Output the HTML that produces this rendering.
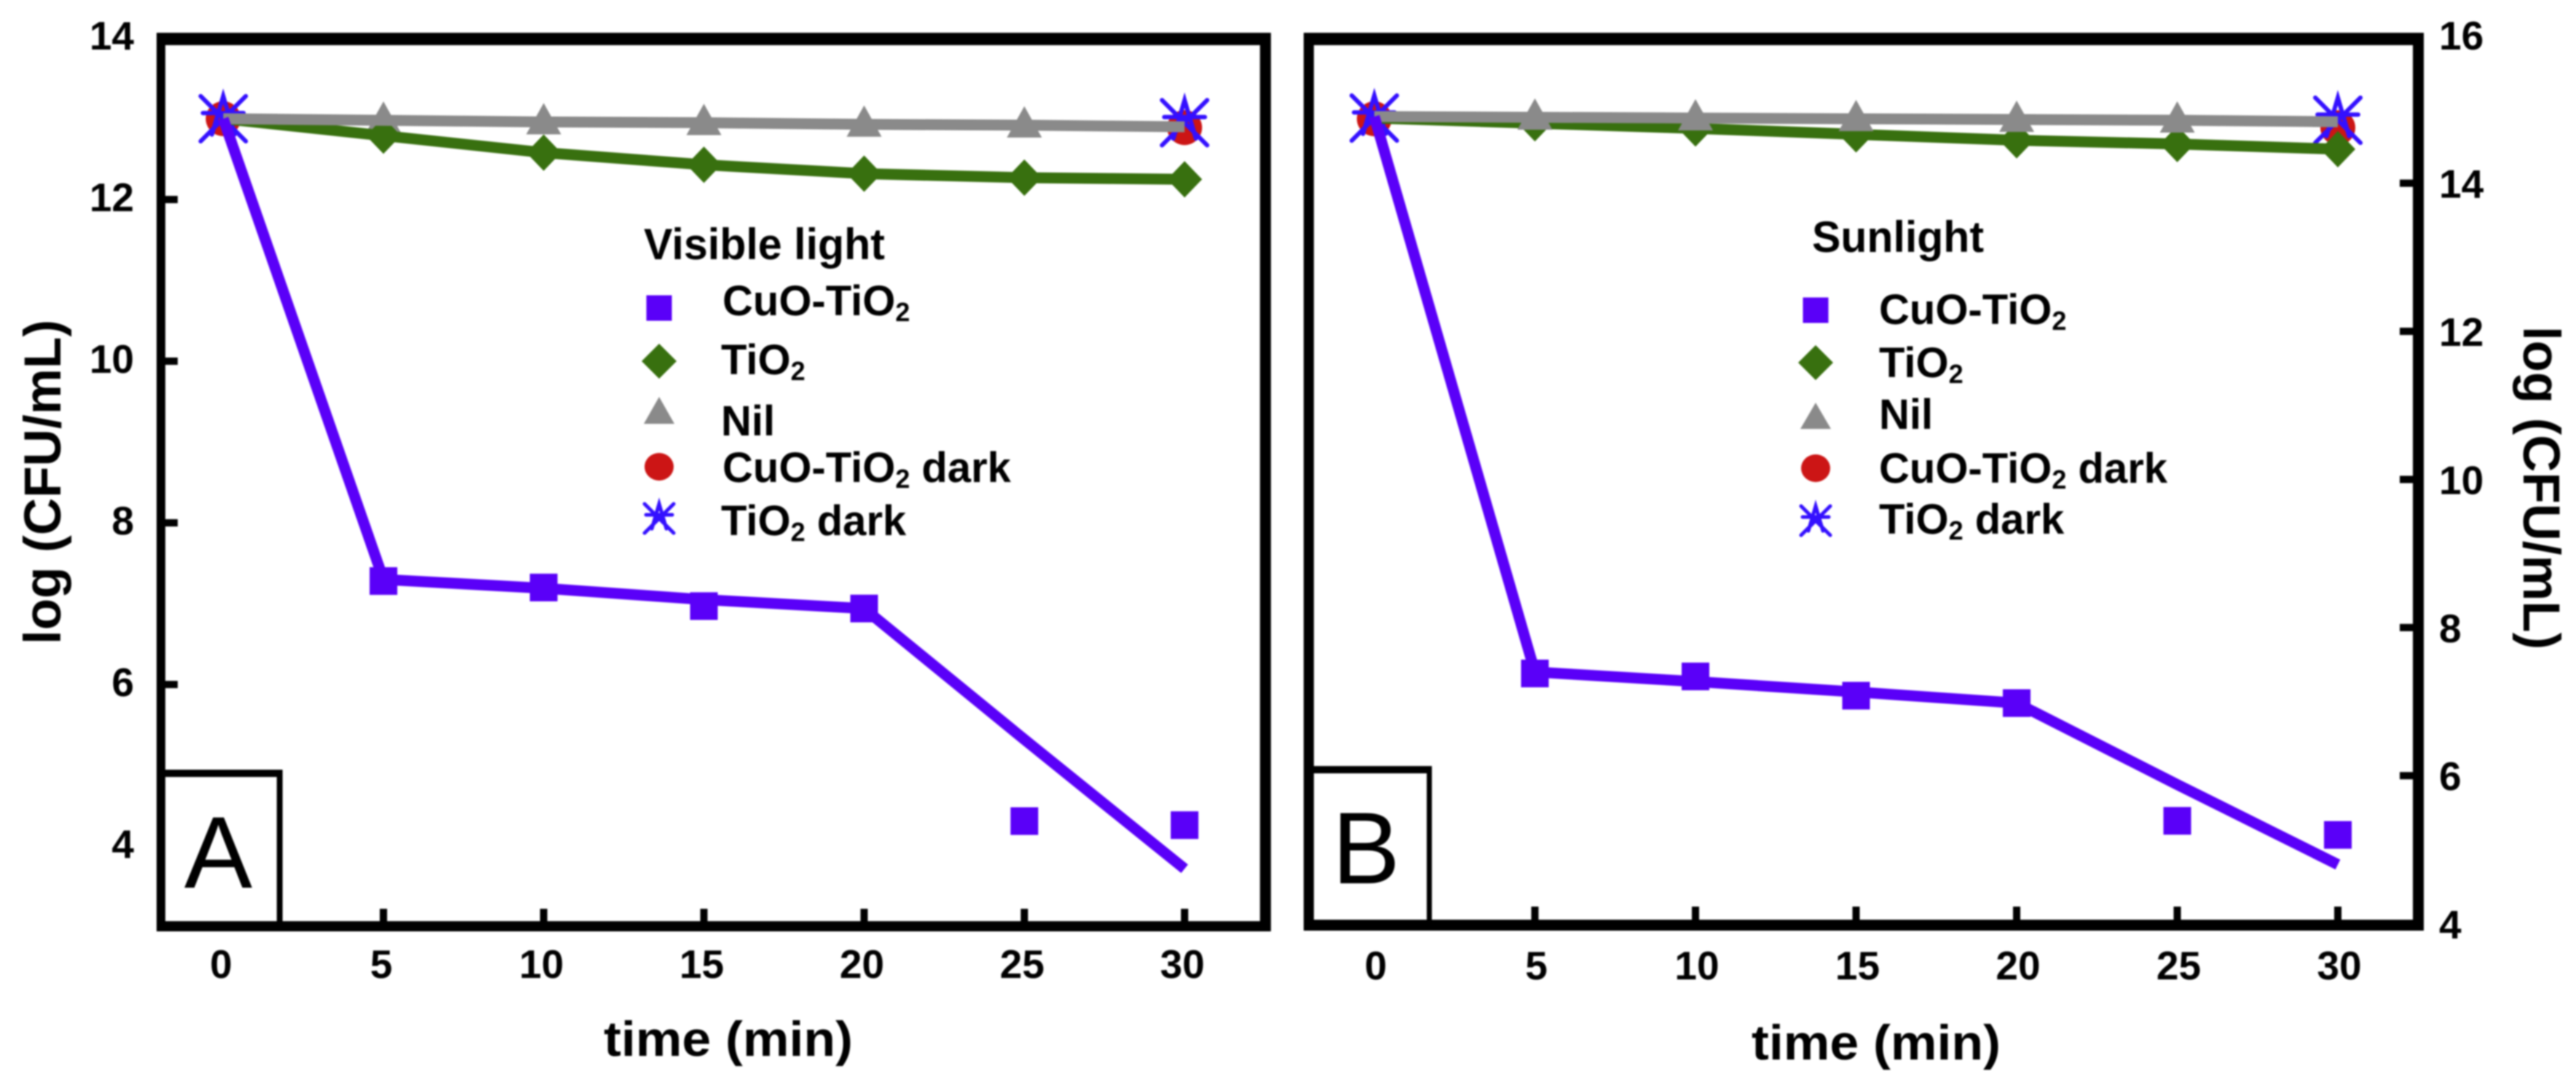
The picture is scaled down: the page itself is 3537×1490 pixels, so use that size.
<!DOCTYPE html>
<html lang="en">
<head>
<meta charset="utf-8">
<title>log CFU/mL versus time under visible light and sunlight</title>
<style>
html,body{margin:0;padding:0;background:#fff;width:3537px;height:1490px;overflow:hidden}
svg{display:block;filter:blur(1px)}
text{font-family:"Liberation Sans",Arial,sans-serif;fill:#000}
.b{font-weight:700}
.leg{font-weight:700;font-size:58px}
.sub{font-size:36px}
</style>
</head>
<body>
<svg id="chart" xmlns="http://www.w3.org/2000/svg" width="3537" height="1490" viewBox="0 0 3537 1490">
  <rect x="0" y="0" width="3537" height="1490" fill="#fff"/>
  <g id="panelA"></g>
  <g id="panelB"></g>

  <text class="b" font-size="71" text-anchor="middle" textLength="446" lengthAdjust="spacingAndGlyphs" transform="translate(83 662) rotate(-90)">log (CFU/mL)</text>
  <text class="b" font-size="68" x="829" y="1450" textLength="342" lengthAdjust="spacingAndGlyphs">time (min)</text>
  <text class="b" font-size="71" text-anchor="middle" textLength="444" lengthAdjust="spacingAndGlyphs" transform="translate(3465 670) rotate(90)">log (CFU/mL)</text>
  <text class="b" font-size="68" x="2405" y="1455" textLength="342" lengthAdjust="spacingAndGlyphs">time (min)</text>

  <g>
    <text class="b" font-size="60" x="884" y="356" textLength="331" lengthAdjust="spacingAndGlyphs">Visible light</text>
    <text class="leg" x="992" y="433">CuO-TiO<tspan class="sub" dy="8">2</tspan></text>
    <text class="leg" x="990" y="514">TiO<tspan class="sub" dy="8">2</tspan></text>
    <text class="leg" x="990" y="598">Nil</text>
    <text class="leg" x="992" y="662">CuO-TiO<tspan class="sub" dy="8">2</tspan><tspan dy="-8"> dark</tspan></text>
    <text class="leg" x="990" y="735">TiO<tspan class="sub" dy="8">2</tspan><tspan dy="-8"> dark</tspan></text>
  </g>
  <g>
    <text class="b" font-size="60" x="2488" y="346" textLength="236" lengthAdjust="spacingAndGlyphs">Sunlight</text>
    <text class="leg" x="2580" y="445">CuO-TiO<tspan class="sub" dy="8">2</tspan></text>
    <text class="leg" x="2580" y="518">TiO<tspan class="sub" dy="8">2</tspan></text>
    <text class="leg" x="2580" y="589">Nil</text>
    <text class="leg" x="2580" y="663">CuO-TiO<tspan class="sub" dy="8">2</tspan><tspan dy="-8"> dark</tspan></text>
    <text class="leg" x="2580" y="733">TiO<tspan class="sub" dy="8">2</tspan><tspan dy="-8"> dark</tspan></text>
  </g>

  <text font-size="140" x="253" y="1219">A</text>
  <text font-size="140" x="1829" y="1213">B</text>
</svg>

<script>
// Shared categories and tick labels
const timeCategories = [0, 5, 10, 15, 20, 25, 30];
const xTickLabels = ["0", "5", "10", "15", "20", "25", "30"];
const yTicksA = [14, 12, 10, 8, 6, 4];
const yTicksB = [16, 14, 12, 10, 8, 6, 4];

// Panel A: visible light
const cuoPointsA = [13, 7.28, 7.2, 6.97, 6.94, 4.31, 4.26];
const cuoTrendA = [13, 7.3, 7.19, 7.05, 6.94, 5.32, 3.72];
const tio2A = [13, 12.79, 12.58, 12.43, 12.32, 12.27, 12.25];
const nilA = [13, 12.98, 12.96, 12.95, 12.93, 12.92, 12.9];
const cuoDarkTimesA = [0, 30];
const cuoDarkA = [13, 12.89];
const tio2DarkTimesA = [0, 30];
const tio2DarkA = [13, 12.95];

// Panel B: sunlight
const cuoPointsB = [14.9, 7.38, 7.34, 7.08, 6.98, 5.39, 5.2];
const cuoTrendB = [14.9, 7.4, 7.27, 7.13, 6.98, 5.88, 4.8];
const tio2B = [14.88, 14.81, 14.74, 14.66, 14.58, 14.53, 14.46];
const nilB = [14.9, 14.89, 14.88, 14.87, 14.86, 14.85, 14.83];
const cuoDarkTimesB = [0, 30];
const cuoDarkB = [14.87, 14.75];
const tio2DarkTimesB = [0, 30];
const tio2DarkB = [14.88, 14.85];

const COLORS = {cuo: '#5a00f8', tio2: '#38700f', nil: '#8a8a8a', red: '#cc1515', star: '#3410ff'};
const NS = 'http://www.w3.org/2000/svg';

function xA(t) { return 306.5 + 44 * t; }
function yA(v) { return 52 + (14 - v) * 111; }
function xB(t) { return 1887 + 44.1 * t; }
function yB(v) { return 251.6 + (14 - v) * 101.7; }

function make(tag, attrs, parent) {
  const el = document.createElementNS(NS, tag);
  for (const k in attrs) el.setAttribute(k, attrs[k]);
  parent.appendChild(el);
  return el;
}

function rect(parent, x, y, w, h, fill, name) {
  const el = make('rect', {x: x, y: y, width: w, height: h, fill: fill}, parent);
  
  
  return el;
}

function polyline(parent, xs, ys, color, width, name) {
  const pts = xs.map(function (x, i) { return x + ',' + ys[i]; }).join(' ');
  const el = make('polyline', {points: pts, fill: 'none', stroke: color, 'stroke-width': width, 'stroke-linejoin': 'round'}, parent);
  
  
  return el;
}

function square(parent, cx, cy, s, name) {
  return rect(parent, cx - s / 2, cy - s / 2, s, s, COLORS.cuo, name);
}

function diamond(parent, cx, cy, rx, ry, name) {
  const el = make('polygon', {points: cx + ',' + (cy - ry) + ' ' + (cx + rx) + ',' + cy + ' ' + cx + ',' + (cy + ry) + ' ' + (cx - rx) + ',' + cy, fill: COLORS.tio2}, parent);
  
  
  return el;
}

function triangle(parent, cx, apex, base, hw, name) {
  const el = make('polygon', {points: cx + ',' + apex + ' ' + (cx + hw) + ',' + base + ' ' + (cx - hw) + ',' + base, fill: COLORS.nil}, parent);
  
  
  return el;
}

function circle(parent, cx, cy, rx, ry, name) {
  const el = make('ellipse', {cx: cx, cy: cy, rx: rx, ry: ry, fill: COLORS.red}, parent);
  
  
  return el;
}

function star(parent, cx, cy, r, sw, name) {
  const d = 'M' + (cx - r) + ' ' + (cy - r) + 'L' + (cx + r) + ' ' + (cy + r) +
            'M' + (cx + r) + ' ' + (cy - r) + 'L' + (cx - r) + ' ' + (cy + r) +
            'M' + (cx - r * 0.5) + ' ' + (cy + r * 0.7) + 'L' + cx + ' ' + (cy - r) + 'L' + (cx + r * 0.5) + ' ' + (cy + r * 0.7) +
            'M' + (cx - r * 0.9) + ' ' + (cy - r * 0.25) + 'L' + (cx + r * 0.9) + ' ' + (cy - r * 0.25);
  const el = make('path', {d: d, fill: 'none', stroke: COLORS.star, 'stroke-width': sw, 'stroke-linecap': 'round'}, parent);
  
  
  return el;
}

function label(parent, x, y, str, anchor, name) {
  const el = make('text', {x: x, y: y, 'font-size': 55, 'font-weight': 700, 'text-anchor': anchor}, parent);
  el.textContent = str;
  
  
  return el;
}

function drawSeries(g, x, y, d, suffix, trianglesOnTop) {
  const xs = timeCategories.map(x);
  function triangles() {
    timeCategories.forEach(function (t, i) {
      if (i > 0 && i < 6) triangle(g, x(t), y(d.nil[i]) - 26, y(d.nil[i]) + 17, 24, 'nil-point-' + suffix);
    });
  }
  d.cuoDarkTimes.forEach(function (t, i) {
    circle(g, x(t), y(d.cuoDark[i]), 24, 24, 'cuo-tio2-dark-point-' + suffix);
  });
  d.tio2DarkTimes.forEach(function (t, i) {
    star(g, x(t), y(d.tio2Dark[i]), 31, 6, 'tio2-dark-point-' + suffix);
  });
  if (!trianglesOnTop) triangles();
  polyline(g, xs, d.tio2.map(y), COLORS.tio2, 15, 'tio2-line-' + suffix);
  timeCategories.forEach(function (t, i) {
    if (i > 0) diamond(g, x(t), y(d.tio2[i]), 24, 25, 'tio2-point-' + suffix);
  });
  polyline(g, xs, d.nil.map(y), COLORS.nil, 15, 'nil-line-' + suffix);
  if (trianglesOnTop) triangles();
  polyline(g, xs, d.cuoTrend.map(y), COLORS.cuo, 15, 'cuo-tio2-line-' + suffix);
  timeCategories.forEach(function (t, i) {
    if (i > 0) square(g, x(t), y(d.cuoPoints[i]), 38, 'cuo-tio2-point-' + suffix);
  });
}

function drawLegendMarkers(g, mx, sy, dy, tApex, tBase, cy, stY, suffix) {
  square(g, mx, sy, 35, 'legend-marker-cuo-tio2-' + suffix);
  diamond(g, mx, dy, 24, 24, 'legend-marker-tio2-' + suffix);
  triangle(g, mx, tApex, tBase, 21, 'legend-marker-nil-' + suffix);
  circle(g, mx, cy, 20, 19, 'legend-marker-cuo-tio2-dark-' + suffix);
  star(g, mx, stY, 20, 5, 'legend-marker-tio2-dark-' + suffix);
}

// Panel A
(function () {
  const g = document.getElementById('panelA');
  drawSeries(g, xA, yA, {
    cuoPoints: cuoPointsA, cuoTrend: cuoTrendA, tio2: tio2A, nil: nilA,
    cuoDarkTimes: cuoDarkTimesA, cuoDark: cuoDarkA, tio2DarkTimes: tio2DarkTimesA, tio2Dark: tio2DarkA
  }, 'a', false);
  rect(g, 215, 45, 1530, 17, '#000', 'frame-top-a');
  rect(g, 215, 45, 12, 1234, '#000', 'y-axis-line-a');
  rect(g, 1730, 45, 15, 1234, '#000', 'frame-right-a');
  rect(g, 215, 1265, 1530, 14, '#000', 'x-axis-line-a');
  yTicksA.forEach(function (v) {
    if (v !== 14 && v !== 4) rect(g, 227, yA(v) - 5, 17, 10, '#000', 'y-tick-a');
    label(g, 184, yA(v) + 16, String(v), 'end', 'y-tick-label-a');
  });
  timeCategories.forEach(function (t, i) {
    if (i > 0) rect(g, xA(t) - 5, 1248, 10, 18, '#000', 'x-tick-a');
    label(g, xA(t) - 3, 1343, xTickLabels[i], 'middle', 'x-tick-label-a');
  });
  rect(g, 226, 1057, 162, 10, '#000', 'label-box-top-a');
  rect(g, 380, 1057, 8, 210, '#000', 'label-box-right-a');
  drawLegendMarkers(g, 905, 423, 496, 545, 582, 641, 712, 'a');
})();

// Panel B
(function () {
  const g = document.getElementById('panelB');
  drawSeries(g, xB, yB, {
    cuoPoints: cuoPointsB, cuoTrend: cuoTrendB, tio2: tio2B, nil: nilB,
    cuoDarkTimes: cuoDarkTimesB, cuoDark: cuoDarkB, tio2DarkTimes: tio2DarkTimesB, tio2Dark: tio2DarkB
  }, 'b', true);
  rect(g, 1790, 45, 1538, 17, '#000', 'frame-top-b');
  rect(g, 1790, 45, 14, 1233, '#000', 'frame-left-b');
  rect(g, 3313, 45, 15, 1233, '#000', 'y-axis-line-b');
  rect(g, 1790, 1263, 1538, 15, '#000', 'x-axis-line-b');
  yTicksB.forEach(function (v) {
    if (v !== 16 && v !== 4) rect(g, 3295, yB(v) - 5, 18, 10, '#000', 'y-tick-b');
    label(g, 3349, yB(v) + 20, String(v), 'start', 'y-tick-label-b');
  });
  timeCategories.forEach(function (t, i) {
    if (i > 0) rect(g, xB(t) - 5, 1245, 10, 18, '#000', 'x-tick-b');
    label(g, xB(t) + 2, 1345, xTickLabels[i], 'middle', 'x-tick-label-b');
  });
  rect(g, 1803, 1052, 163, 10, '#000', 'label-box-top-b');
  rect(g, 1959, 1052, 7, 214, '#000', 'label-box-right-b');
  drawLegendMarkers(g, 2493, 426, 498, 553, 589, 643, 715, 'b');
})();
</script>
</body>
</html>
